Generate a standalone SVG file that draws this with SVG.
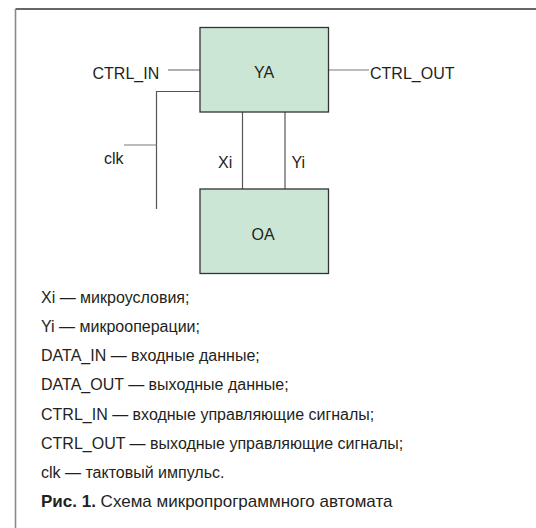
<svg xmlns="http://www.w3.org/2000/svg" width="536" height="528" viewBox="0 0 536 528">
  <style>
    text { font-family: "Liberation Sans", Arial, sans-serif; font-size: 16px; fill: #231f20; }
    .box { fill: #cce6d5; stroke: #333333; stroke-width: 1.3; }
    .wire { stroke: #555555; stroke-width: 1.2; fill: none; }
    .lwire { stroke: #7a7a7a; stroke-width: 1.2; fill: none; }
    .c { text-anchor: middle; }
    .b { font-weight: bold; }
    .cap { font-size: 17px; }
  </style>
  <rect width="536" height="528" fill="#ffffff"/>
  <line x1="15.5" y1="9" x2="536" y2="9" stroke="#333333" stroke-width="1.4"/>
  <line x1="15.5" y1="9" x2="15.5" y2="528" stroke="#8a8a8a" stroke-width="1.6"/>

  <g id="connectors">
    <line class="lwire" x1="168" y1="70" x2="200" y2="70"/>
    <line class="lwire" x1="328.5" y1="70" x2="369" y2="70"/>
    <polyline class="wire" points="200,91.5 156.5,91.5 156.5,209"/>
    <line class="lwire" x1="124" y1="145" x2="156.5" y2="145"/>
    <line class="wire" x1="242.5" y1="112" x2="242.5" y2="189"/>
    <line class="wire" x1="285" y1="112" x2="285" y2="189"/>
  </g>

  <g id="YA">
    <rect class="box" x="200" y="27.5" width="128.5" height="84.5"/>
    <text class="c" x="264" y="78">YA</text>
  </g>
  <g id="OA">
    <rect class="box" x="200" y="189" width="128.5" height="84.5"/>
    <text class="c" x="263" y="240">OA</text>
  </g>

  <g id="labels">
    <text x="92.5" y="78.5">CTRL_IN</text>
    <text x="370" y="78.5">CTRL_OUT</text>
    <text x="104" y="164">clk</text>
    <text x="218" y="168">Xi</text>
    <text x="291.5" y="168">Yi</text>
  </g>

  <g id="legend">
    <text x="41" y="302.5">Xi — микроусловия;</text>
    <text x="41" y="331.5">Yi — микрооперации;</text>
    <text x="41" y="361">DATA_IN — входные данные;</text>
    <text x="41" y="390">DATA_OUT — выходные данные;</text>
    <text x="41" y="419.5">CTRL_IN — входные управляющие сигналы;</text>
    <text x="41" y="448.5">CTRL_OUT — выходные управляющие сигналы;</text>
    <text x="41" y="478">clk — тактовый импульс.</text>
    <text class="cap" x="41" y="507"><tspan class="b">Рис. 1.</tspan> Схема микропрограммного автомата</text>
  </g>
</svg>
